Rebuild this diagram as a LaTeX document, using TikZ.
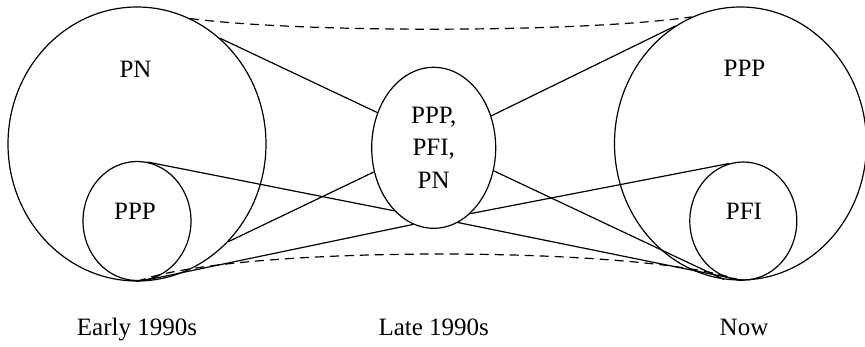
\documentclass[tikz,border=0pt]{standalone}
\usepackage{fontspec}
\setmainfont{Liberation Serif}
\usetikzlibrary{shapes.geometric}

\begin{document}
\begin{tikzpicture}[x=1pt,y=-1pt,
    every node/.style={font=\fontsize{25}{32.5}\selectfont},
    blob/.style={draw, ellipse, line width=1.2pt, inner sep=0pt},
    txt/.style={inner sep=0pt},
    link/.style={line width=1.2pt},
    envelope/.style={line width=1.2pt, dash pattern=on 9pt off 6pt}]
  \useasboundingbox (0,0) rectangle (865,347);

  % the three stages
  \node[blob, minimum width=258pt, minimum height=274pt] (bigL) at (137,144) {};
  \node[blob, minimum width=108pt, minimum height=119pt] (smallL) at (137,221) {};
  \node[blob, minimum width=124pt, minimum height=161pt, align=center] (mid) at (433.7,147.8) {PPP,\\PFI,\\PN};
  \node[blob, minimum width=252pt, minimum height=273pt] (bigR) at (740.5,143.5) {};
  \node[blob, minimum width=107pt, minimum height=118pt] (smallR) at (743.3,221) {};

  % labels inside the circles
  \node[txt] (lblPN)  at (135.5,69) {PN};
  \node[txt] (lblPPPa) at (135,211.5) {PPP};
  \node[txt] (lblPPPb) at (744.5,68) {PPP};
  \node[txt] (lblPFI) at (744,211) {PFI};

  % time axis captions
  \node[txt, anchor=base] (early) at (137,336) {Early 1990s};
  \node[txt, anchor=base] (late)  at (433.7,336) {Late 1990s};
  \node[txt, anchor=base] (now)   at (744,336) {Now};

  % connectors, left to middle
  \draw[link] (bigL.52.7)   -- (mid.148.8);
  \draw[link] (bigL.-47.7)  -- (mid.202.2);
  \draw[link] (smallL.80.3) -- (mid.238.8);
  \draw[link] (smallL.-84.3) -- (mid.255.2);

  % connectors, middle to right
  \draw[link] (mid.29.9)  -- (bigR.119.2);
  \draw[link] (mid.-61)   -- (smallR.104.8);
  \draw[link] (mid.-21.9) -- (bigR.-97.8);
  \draw[link] (mid.-72.9) -- (smallR.south);

  % dashed envelope
  \draw[envelope] (bigL.67) .. controls (300,33) and (580,33) .. (bigR.111.9);
  \draw[envelope] (bigL.south) .. controls (230,245) and (645,245) .. (bigR.south);
\end{tikzpicture}
\end{document}
